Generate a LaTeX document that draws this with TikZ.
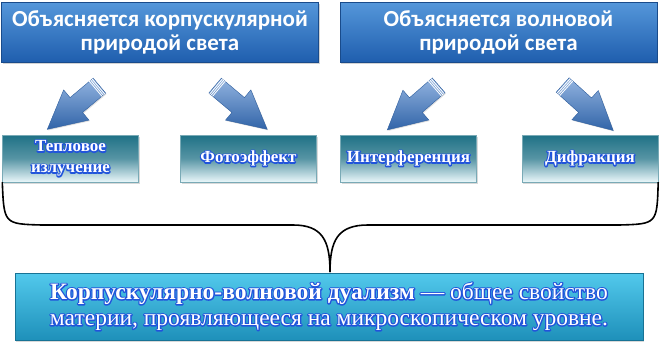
\documentclass[tikz,border=0pt]{standalone}
\usepackage{fontspec}
\setmainfont{Liberation Serif}
\newfontfamily\headfont{Carlito}
\usepackage{tikz}
\usetikzlibrary{shapes.arrows,shadows,calc}
\definecolor{headtop}{HTML}{5597DA}
\definecolor{headbot}{HTML}{1F5EAE}
\definecolor{arrowcol}{HTML}{3A76C6}
\definecolor{phentop}{HTML}{1F7186}
\definecolor{phenbot}{HTML}{EAF7FA}
\definecolor{dualtop}{HTML}{52C9EC}
\definecolor{dualbot}{HTML}{1E90BA}
% white letters on a blue rim: stroked copy first, plain copy on top
\newcommand{\glowtext}[1]{\makebox[0pt][l]{\special{pdf:literal direct 1 Tr 2.4 w 1 j 0.13 0.33 0.86 RG}#1\special{pdf:literal direct 0 Tr}}#1}

\begin{document}
\begin{tikzpicture}[
  x=1pt,y=-1pt,
  headbox/.style={draw=headbot!80!black,top color=headtop,bottom color=headbot,
    minimum width=317pt,minimum height=60pt,text=white,align=center,
    font=\headfont\bfseries\fontsize{23}{24}\selectfont,
    drop shadow={opacity=.35,shadow xshift=1pt,shadow yshift=-2pt}},
  phenbox/.style={draw=phentop!60,top color=phentop,bottom color=phenbot,middle color=phentop!75!white,
    minimum width=136pt,minimum height=47pt,text=white,align=center,
    font=\bfseries\fontsize{17}{21}\selectfont,
    drop shadow={opacity=.3,shadow xshift=1pt,shadow yshift=-2pt}},
  dualbox/.style={draw=dualbot!80!black,top color=dualtop,bottom color=dualbot,
    minimum width=628pt,minimum height=67pt,text=white,align=center,
    font=\fontsize{23.5}{26}\selectfont,
    drop shadow={opacity=.3,shadow xshift=1pt,shadow yshift=-2pt}},
  bigarrow/.style={single arrow,draw=arrowcol!80!black,top color=arrowcol!55!white,bottom color=arrowcol!85!black,
    minimum height=68pt,inner sep=9.5pt,single arrow head extend=10pt,single arrow tip angle=55,
    drop shadow={opacity=.25,shadow xshift=1pt,shadow yshift=-1pt}},
  brace/.style={line width=1.6pt,black}
]
  \useasboundingbox (0,0) rectangle (661,343);
  \node[headbox] (corp) at (160,32) {Объясняется корпускулярной\\природой света};
  \node[headbox] (wave) at (498.5,32) {Объясняется волновой\\природой света};
  \node[phenbox] (heat) at (70.5,158.5) {\glowtext{Тепловое}\\\glowtext{излучение}};
  \node[phenbox] (photo) at (248.5,158.5) {\glowtext{Фотоэффект}};
  \node[phenbox] (inter) at (408.5,158.5) {\glowtext{Интерференция}};
  \node[phenbox] (diffr) at (590,158.5) {\glowtext{Дифракция}};
  \node[dualbox] (dual) at (329,306.5) {\glowtext{\textbf{Корпускулярно-волновой дуализм} — общее свойство}\\\glowtext{материи, проявляющееся на микроскопическом уровне.}};
  % block arrows
  \node[bigarrow,rotate=220] (a1) at (80.5,101.5) {};
  \node[bigarrow,rotate=-40] (a2) at (234,101.5) {};
  \node[bigarrow,rotate=221] (a3) at (420,101.5) {};
  \node[bigarrow,rotate=-42] (a4) at (581,101.5) {};
  \foreach \a in {a1,a2,a3,a4}
    \foreach \f in {.05,.11,.17}
      \draw[white,line width=.8pt] ($(\a.before tail)!\f!(\a.after head)$) -- ($(\a.after tail)!\f!(\a.before head)$);
  % brace
  \coordinate (tip) at (330,272);
  \draw[brace] (heat.south west) .. controls (4,224) .. (42,225) -- (293,225)
    .. controls (322,225) and (330,240) .. (tip);
  \draw[brace] (diffr.south east) .. controls (657,224) .. (619,225) -- (368,225)
    .. controls (338,225) and (330,240) .. (tip);
\end{tikzpicture}
\end{document}
